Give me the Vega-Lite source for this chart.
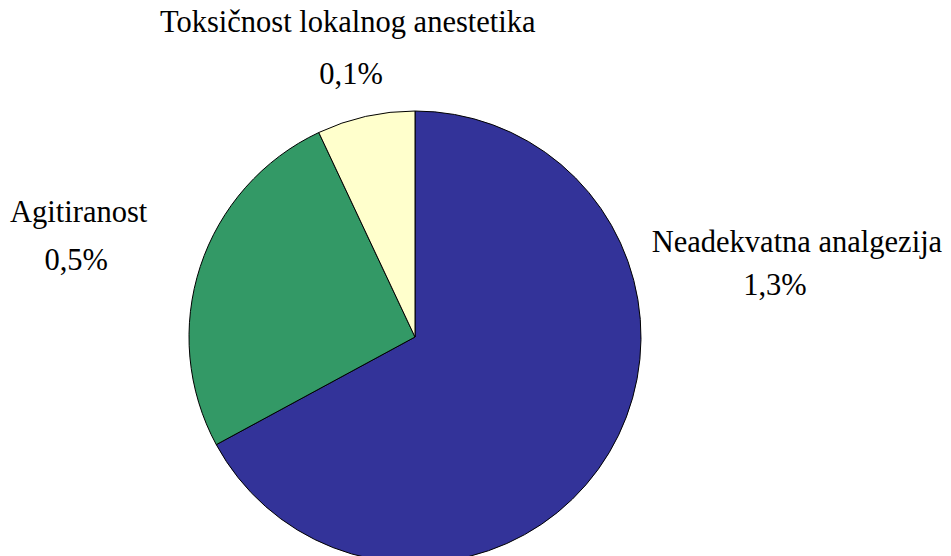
{
  "$schema": "https://vega.github.io/schema/vega-lite/v6.json",
  "width": 830,
  "height": 674,
  "autosize": {"type": "none"},
  "padding": {"left": 0, "top": 0, "right": 121, "bottom": 0},
  "background": "white",
  "config": {"view": {"stroke": null}},
  "data": {
    "values": [
      {"category": "Neadekvatna analgezija", "pct": "1,3%", "share": 67.1, "order": 1},
      {"category": "Agitiranost", "pct": "0,5%", "share": 25.9, "order": 2},
      {"category": "Toksičnost lokalnog anestetika", "pct": "0,1%", "share": 7.0, "order": 3}
    ]
  },
  "encoding": {
    "theta": {"field": "share", "type": "quantitative", "stack": true},
    "order": {"field": "order", "type": "quantitative"}
  },
  "layer": [
    {
      "mark": {"type": "arc", "radius": 226, "stroke": "black", "strokeWidth": 1},
      "encoding": {
        "color": {
          "field": "category",
          "type": "nominal",
          "scale": {
            "domain": ["Neadekvatna analgezija", "Agitiranost", "Toksičnost lokalnog anestetika"],
            "range": ["#333399", "#339966", "#FFFFCC"]
          },
          "legend": null
        }
      }
    },
    {
      "mark": {"type": "text", "radius": 313, "dx": 1, "dy": 0, "font": "Liberation Serif", "fontSize": 30.5, "align": "center", "baseline": "alphabetic", "color": "black"},
      "encoding": {"text": {"condition": {"test": "datum.order === 3", "field": "category", "type": "nominal"}, "value": ""}}
    },
    {
      "mark": {"type": "text", "radius": 261, "dx": -7, "dy": 2, "font": "Liberation Serif", "fontSize": 30.5, "align": "center", "baseline": "alphabetic", "color": "black"},
      "encoding": {"text": {"condition": {"test": "datum.order === 3", "field": "pct", "type": "nominal"}, "value": ""}}
    },
    {
      "mark": {"type": "text", "radius": 355, "dx": 1, "dy": -4, "font": "Liberation Serif", "fontSize": 30.5, "align": "center", "baseline": "alphabetic", "color": "black"},
      "encoding": {"text": {"condition": {"test": "datum.order === 2", "field": "category", "type": "nominal"}, "value": ""}}
    },
    {
      "mark": {"type": "text", "radius": 345, "dx": -11, "dy": 41, "font": "Liberation Serif", "fontSize": 30.5, "align": "center", "baseline": "alphabetic", "color": "black"},
      "encoding": {"text": {"condition": {"test": "datum.order === 2", "field": "pct", "type": "nominal"}, "value": ""}}
    },
    {
      "mark": {"type": "text", "radius": 391, "dx": 46, "dy": -285, "font": "Liberation Serif", "fontSize": 30.5, "align": "center", "baseline": "alphabetic", "color": "black"},
      "encoding": {"text": {"condition": {"test": "datum.order === 1", "field": "category", "type": "nominal"}, "value": ""}}
    },
    {
      "mark": {"type": "text", "radius": 362, "dx": 49, "dy": -227, "font": "Liberation Serif", "fontSize": 30.5, "align": "center", "baseline": "alphabetic", "color": "black"},
      "encoding": {"text": {"condition": {"test": "datum.order === 1", "field": "pct", "type": "nominal"}, "value": ""}}
    }
  ]
}
